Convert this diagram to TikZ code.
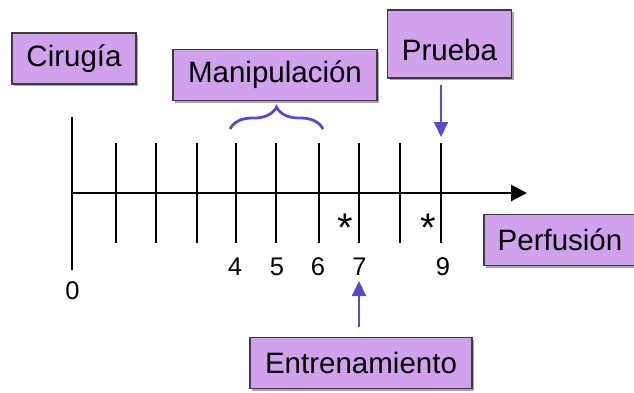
\documentclass[tikz,border=0pt]{standalone}
\usepackage{fontspec}
\setmainfont{Liberation Sans}
\usetikzlibrary{arrows.meta,shadows,decorations.pathreplacing}
\definecolor{boxfill}{RGB}{208,162,238}
\definecolor{boxline}{RGB}{60,60,64}
\definecolor{markblue}{RGB}{88,76,206}
\tikzset{
  labelbox/.style={draw=boxline, line width=1.2pt, fill=boxfill, inner sep=0pt,
    minimum height=51pt, font=\fontsize{29.5}{34}\selectfont,
    drop shadow={shadow xshift=2pt, shadow yshift=-2pt, fill=black, opacity=0.35}},
  axisline/.style={line width=2.8pt, black},
  tickline/.style={line width=2.8pt, black},
  ticklabel/.style={anchor=base, inner sep=0pt, font=\fontsize{25.5}{30}\selectfont},
  starlabel/.style={anchor=base, inner sep=0pt, font=\fontsize{40}{44}\selectfont},
  bluearrow/.style={line width=2pt, markblue, -{Triangle[length=15pt, width=14pt]}},
  bracestyle/.style={line width=2.8pt, markblue, decorate,
    decoration={brace, amplitude=22pt}}
}
\begin{document}
\begin{tikzpicture}[x=1pt, y=-1pt]
\useasboundingbox (0,0) rectangle (634,392);
% boxes
\node[labelbox, minimum width=124pt] (cir) at (74,58.5) {Cirugía};
\node[labelbox, minimum width=204pt] (man) at (275,75) {Manipulación};
\node[labelbox, minimum width=124pt, minimum height=68pt] (pru) at (449.5,44) {\raisebox{-16pt}[0pt][0pt]{Prueba}};
\node[labelbox, minimum width=152pt] (per) at (560,240) {Perfusión};
\node[labelbox, minimum width=222pt] (ent) at (361,363) {Entrenamiento};
% axis
\coordinate (o) at (72,193);
\coordinate (axend) at (527,193);
\draw[axisline, -{Triangle[length=16pt, width=16pt]}] (o) -- (axend);
\draw[tickline] (72,117) -- (72,270);
\foreach \x in {116,156,197,236,276,319,359,400,441}
  \draw[tickline] (\x,143) -- (\x,243);
% tick labels
\node[ticklabel] (l0) at (72.5,299) {0};
\node[ticklabel] (l4) at (235,275) {4};
\node[ticklabel] (l5) at (277,275) {5};
\node[ticklabel] (l6) at (318,275) {6};
\node[ticklabel] (l7) at (359.5,275) {7};
\node[ticklabel] (l9) at (443,275) {9};
% stars
\node[starlabel] (s1) at (345,241) {*};
\node[starlabel] (s2) at (428,241) {*};
% brace
\coordinate (bl) at (230,129);
\coordinate (br) at (323,129);
\draw[bracestyle] (bl) -- (br);
% arrows
\coordinate (pa) at (441,85);
\coordinate (pb) at (441,137);
\draw[bluearrow] (pa) -- (pb);
\coordinate (ea) at (359,327);
\coordinate (eb) at (359,281);
\draw[bluearrow] (ea) -- (eb);
\end{tikzpicture}
\end{document}
